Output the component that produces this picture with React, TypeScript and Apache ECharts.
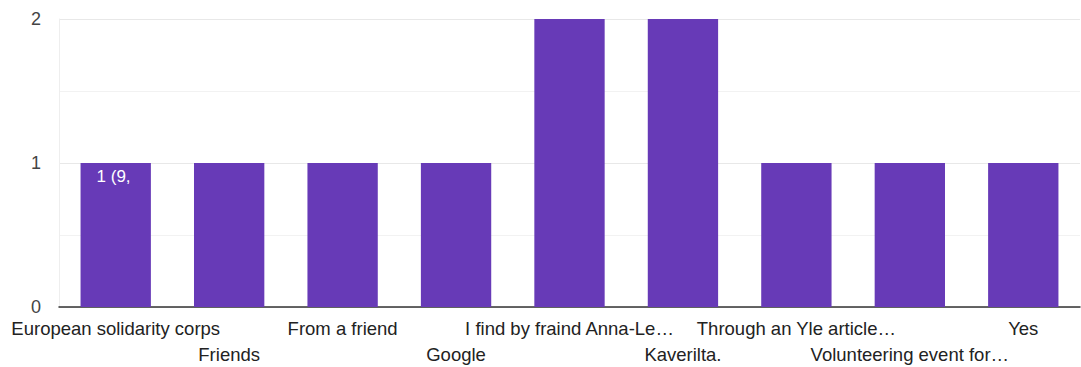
import React, { useEffect, useRef } from "react";
import * as echarts from "echarts";

const categories = [
  "European solidarity corps",
  "Friends",
  "From a friend",
  "Google",
  "I find by fraind Anna-Le…",
  "Kaverilta.",
  "Through an Yle article…",
  "Volunteering event for…",
  "Yes",
];
const counts = [1, 1, 1, 1, 2, 2, 1, 1, 1];
const firstBarLabel = "1 (9,";
const yTicks = [0, 1, 2];

export default function App() {
  const ref = useRef<HTMLDivElement>(null);
  useEffect(() => {
    const chart = echarts.init(ref.current!, null, { renderer: "svg" });
    const font = "Arial, 'Liberation Sans', sans-serif";
    chart.setOption({
      animation: false,
      grid: { left: 59, right: 1, top: 19, bottom: 48, containLabel: false },
      xAxis: {
        type: "category",
        data: categories,
        axisLine: { show: true, lineStyle: { color: "#333", width: 1.5 } },
        axisTick: { show: false },
        axisLabel: {
          interval: 0,
          color: "#222",
          fontSize: 18.5,
          fontFamily: font,
          margin: 8,
          lineHeight: 26,
          formatter: (v: string, i: number) => (i % 2 === 1 ? "\n" + v : v),
        },
      },
      yAxis: {
        type: "value",
        min: yTicks[0],
        max: yTicks[yTicks.length - 1],
        interval: 1,
        axisLine: { show: true, lineStyle: { color: "#eeeeee", width: 1 } },
        axisTick: { show: false },
        axisLabel: { color: "#444", fontSize: 18, fontFamily: font, margin: 18 },
        splitLine: { show: true, lineStyle: { color: "#e8e8e8", width: 1 } },
        minorTick: { show: false, splitNumber: 2 },
        minorSplitLine: { show: true, lineStyle: { color: "#f2f2f2", width: 1 } },
      },
      series: [
        {
          type: "bar",
          barWidth: "62%",
          itemStyle: { color: "#673ab7" },
          data: counts.map((v, i) =>
            i === 0
              ? {
                  value: v,
                  label: {
                    show: true,
                    position: "insideTopLeft",
                    formatter: firstBarLabel,
                    color: "#fff",
                    fontSize: 17,
                    fontFamily: font,
                    distance: 0,
                    offset: [16, 5],
                  },
                }
              : v
          ),
        },
      ],
    });
    return () => chart.dispose();
  }, []);
  return <div ref={ref} style={{ width: 1081, height: 367, position: "absolute", left: 0, top: 0 }} />;
}
